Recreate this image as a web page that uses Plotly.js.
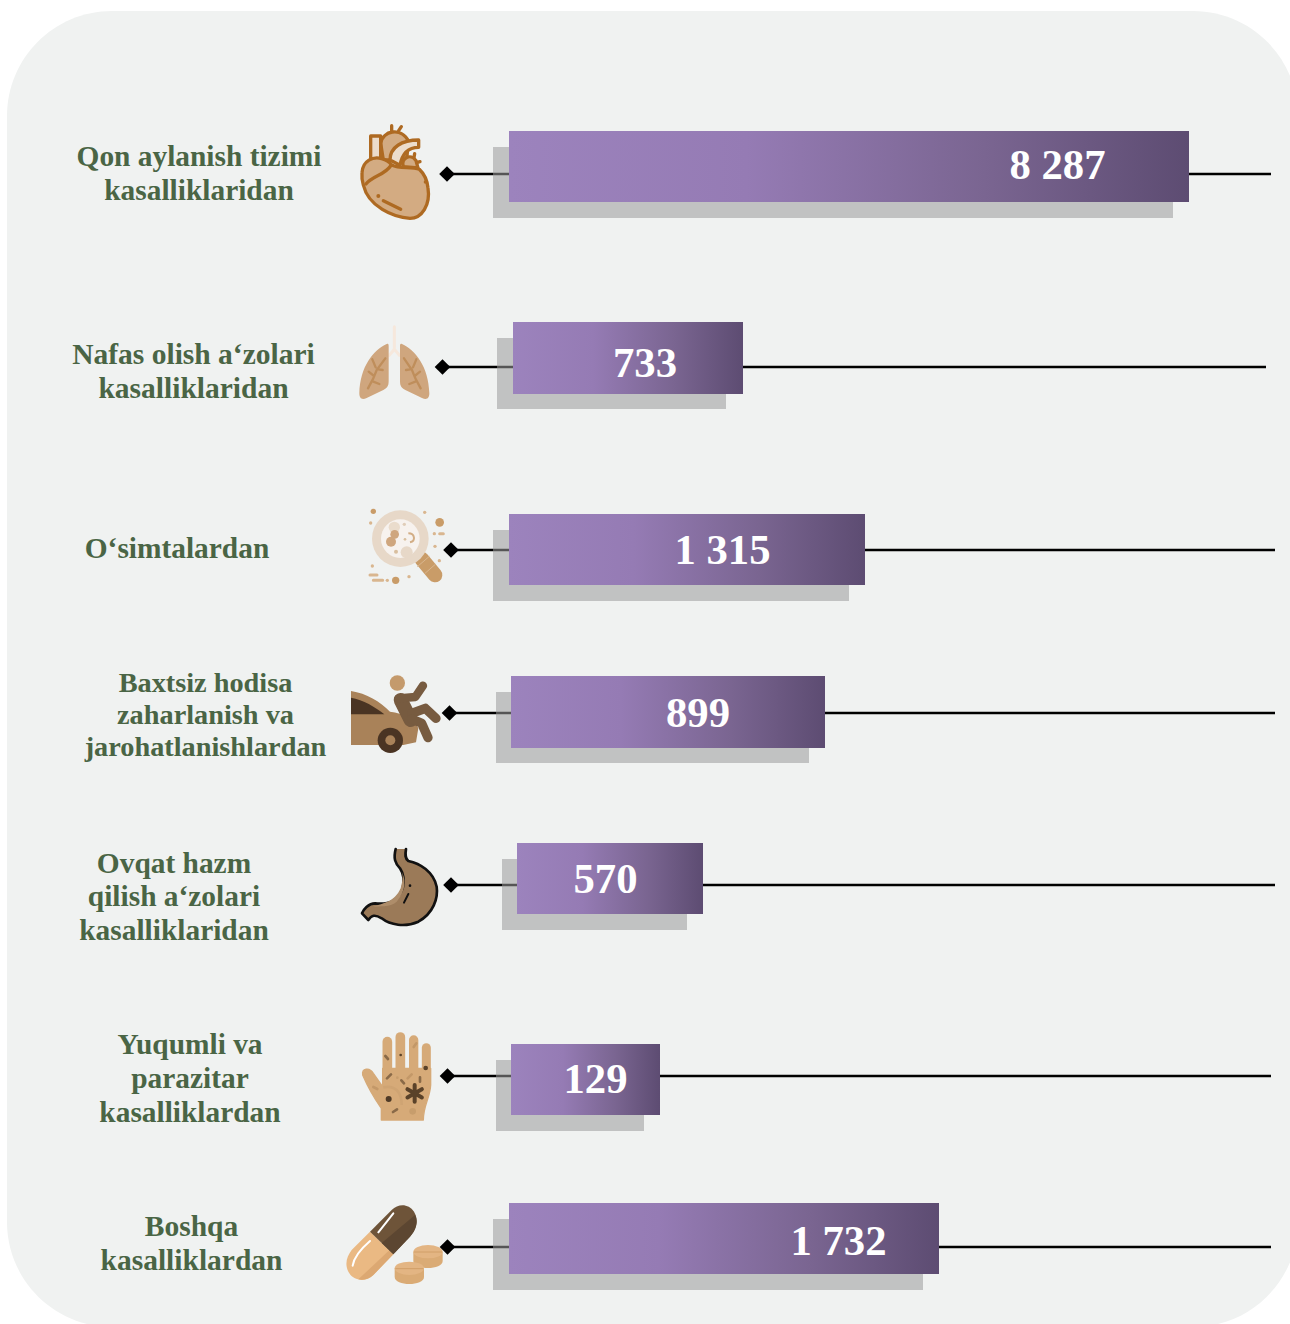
<!DOCTYPE html>
<html>
<head>
<meta charset="utf-8">
<script src="https://cdn.plot.ly/plotly-3.0.1.min.js"></script>
<style>html,body{margin:0;padding:0;background:#fff;overflow:hidden}#chart{width:1290px;height:1324px}</style>
</head>
<body>
<div id="chart"></div>
<script>
// ---- Data ----
const categories = [
  "Qon aylanish tizimi kasalliklaridan",
  "Nafas olish a‘zolari kasalliklaridan",
  "O‘simtalardan",
  "Baxtsiz hodisa zaharlanish va jarohatlanishlardan",
  "Ovqat hazm qilish a‘zolari kasalliklaridan",
  "Yuqumli va parazitar kasalliklardan",
  "Boshqa kasalliklardan"
];
const valueLabels = ["8 287","733","1 315","899","570","129","1 732"];
// The infographic's bars are not to a common scale, so their drawn lengths are read separately from the values.
const barLength = [680,230,356,314,186,149,430];

// ---- Layout of the infographic, in pixel units of the hidden axes ----
const barStart = [509,513,509,511,517,511,509];
const barCentre = [166.5,358,549.5,712,878.5,1079.5,1238.5];
const barHeight = [71,72,71,72,71,71,71];
const shadowStart = [493,497,493,496,502,496,493];
const shadowLength = [680,229,356,313,185,148,430];
const shadowCentre = [182.5,373.5,565.5,727.5,894.5,1095.5,1254.5];
const shadowHeight = [71,71,71,71,71,71,71];
const lineY = [174,367,550,713,885,1076,1247];
const lineStart = [447,442.5,451,449.5,451,447.5,447.5];
const lineEnd = [1271,1266,1275,1275,1275,1271,1271];
const valueX = [1057.5,645,722.5,698,605.5,595.5,838.5];
const valueY = [168,366,553,716,882,1082,1244];
const labelLines = [
  ["Qon aylanish tizimi","kasalliklaridan"],
  ["Nafas olish a‘zolari","kasalliklaridan"],
  ["O‘simtalardan"],
  ["Baxtsiz hodisa","zaharlanish va","jarohatlanishlardan"],
  ["Ovqat hazm","qilish a‘zolari","kasalliklaridan"],
  ["Yuqumli va","parazitar","kasalliklardan"],
  ["Boshqa","kasalliklardan"]
];
const labelX = [199,193.5,177,205.5,174,190,191.5];
const labelY = [
  [159,193],[357,391],[551],[685,717,749],[866,899,933],[1047,1081,1115],[1229,1263]
];
const labelSize = [29.4,29.5,29.4,28.3,29.4,29.4,29.5];
const labelXs = [], labelYs = [], labelTexts = [], labelSizes = [];
labelLines.forEach((lines,i)=>lines.forEach((t,j)=>{labelXs.push(labelX[i]);labelYs.push(labelY[i][j]);labelTexts.push(t);labelSizes.push(labelSize[i]);}));

// ---- Icons ----  (each is drawn in a 3× box placed at iconBox)
const iconBox = [[340,110,180,120],[340,310,180,110],[340,495,180,110],[340,665,180,100],[340,835,180,100],[340,1025,180,105],[340,1195,180,100]];
const spokes = [0,60,120,180,240,300].map(a=>{const r=a*Math.PI/180;return `<line x1="224" y1="205" x2="${224+25*Math.sin(r)}" y2="${205-25*Math.cos(r)}"/>`}).join('');
const iconBodies = [
// heart
`<g stroke="#ae6a22" stroke-width="10" stroke-linejoin="round" stroke-linecap="round" fill="#d3ab82">
<path d="M122 100C128 62 182 50 205 92L200 150L130 150Z"/>
<path d="M155 47V62M184 50L176 62" fill="none"/>
<rect x="92" y="78" width="30" height="70" fill="#ecdccb"/>
<path d="M150 150C150 112 185 90 236 90L236 112C205 112 186 132 180 166Z" fill="#ecdccb"/>
<path d="M190 170C182 145 212 128 228 152L234 174Z"/>
<path d="M224 131L222 142M240 155L232 157" fill="none"/>
<path d="M66 188C68 152 100 138 125 146C140 150 150 158 155 165C180 178 215 168 238 178C256 195 262 215 264 234C272 285 245 325 210 325C160 322 85 290 70 225C66 212 65 200 66 188Z"/>
<path d="M154 165C132 198 100 195 78 222" fill="none"/>
<path d="M130 272L182 298" fill="none"/></g>
<circle cx="115" cy="258" r="6" fill="#ae6a22"/><circle cx="256" cy="216" r="5" fill="#ae6a22"/>`,
// lungs
`<path d="M163 50V120M163 118L148 136M163 118L178 136" stroke="#f6e8dc" stroke-width="9" fill="none" stroke-linecap="round"/>
<path d="M140 102C100 120 60 170 58 250C58 268 68 270 80 264L130 240C145 232 146 225 146 210L146 110C146 102 145 100 140 102Z" fill="#cfa67e"/>
<path d="M186 102C226 120 266 170 268 250C268 268 258 270 246 264L196 240C181 232 180 225 180 210L180 110C180 102 181 100 186 102Z" fill="#cfa67e"/>
<g stroke="#bf8e5b" stroke-width="7" fill="none" stroke-linecap="round">
<path d="M136 145L110 180L100 205L84 235M97 148L107 172M86 185L102 198M128 180L115 178M100 215L118 222"/>
<path d="M192 145L216 180L226 205L242 235M229 148L219 172M240 185L224 198M198 180L211 178M226 215L208 222"/></g>`,
// magnifier
`<path d="M245 192L285 240" stroke="#c99c68" stroke-width="44" stroke-linecap="round"/>
<path d="M232 215L268 184M255 235L286 208" stroke="#d9b68f" stroke-width="3"/>
<circle cx="181" cy="131" r="85" fill="#e7d8c8"/><circle cx="181" cy="131" r="58" fill="#f7f2ee"/>
<circle cx="163" cy="97" r="17" fill="#eadccc"/><circle cx="164" cy="118" r="13" fill="#cfa67e"/><circle cx="153" cy="140" r="15" fill="#cfa67e"/>
<circle cx="200" cy="172" r="18" fill="#e7d8c8"/><circle cx="193" cy="88" r="5" fill="#e0cdb8"/><circle cx="168" cy="170" r="6" fill="#d9bf9f"/><circle cx="195" cy="133" r="4" fill="#d9bf9f"/>
<path d="M205 115C225 115 228 138 210 142" stroke="#d2ad85" stroke-width="6" fill="none"/>
<g fill="#c99c68"><circle cx="100" cy="49" r="8"/><circle cx="299" cy="82" r="13"/><circle cx="167" cy="256" r="11"/></g>
<g fill="#d9b68f"><circle cx="92" cy="84" r="5"/><circle cx="254" cy="52" r="5"/><circle cx="283" cy="116" r="5"/><circle cx="285" cy="154" r="5"/><circle cx="298" cy="197" r="5"/><circle cx="97" cy="213" r="5"/><circle cx="142" cy="256" r="5"/><circle cx="207" cy="245" r="5"/></g>
<g stroke="#d9b68f" stroke-width="9" stroke-linecap="round"><path d="M299 116H310M90 240H111M100 256H128"/></g>`,
// car crash
`<path d="M33 78C80 85 120 110 150 140C190 145 225 160 235 190L228 232L190 240L33 240Z" fill="#a98259"/>
<path d="M33 98C70 105 105 125 133 148L33 148Z" fill="#4a3423"/>
<circle cx="151" cy="226" r="38" fill="#4a3423"/><circle cx="151" cy="226" r="15" fill="#a98259"/>
<circle cx="172" cy="54" r="23" fill="#c49a6c"/>
<g stroke="#775b40" fill="none" stroke-linecap="round" stroke-linejoin="round"><path d="M182 105L212 165" stroke-width="42"/><path d="M175 100L226 96L249 62" stroke-width="25"/><path d="M215 145L256 130L288 160" stroke-width="28"/><path d="M215 162L245 175L264 218" stroke-width="28"/></g>`,
// stomach
`<path d="M167 42C160 70 165 85 180 100C190 115 195 130 188 160C175 195 150 210 105 205C85 205 70 225 66 235L85 255C95 240 105 238 125 250C150 270 195 278 235 260C280 235 295 190 290 155C280 110 240 85 205 78C195 70 195 60 198 42" fill="#9b7a58" stroke="#111" stroke-width="8" stroke-linecap="round" stroke-linejoin="round"/>
<path d="M182 105C198 130 200 165 170 200C150 218 115 212 100 215C130 205 165 200 182 160C190 130 190 118 182 105Z" fill="#ae8d6a"/>
<circle cx="210" cy="152" r="4" fill="#111"/><path d="M205 177L192 203" stroke="#111" stroke-width="6" stroke-linecap="round"/>`,
// hand
`<g stroke="#d6aa78" stroke-linecap="round" fill="none"><path d="M142 50V140" stroke-width="29"/><path d="M181 36V140" stroke-width="29"/><path d="M221 45V140" stroke-width="28"/><path d="M259 68V145" stroke-width="27"/></g>
<path d="M128 130L272 130L272 180C270 220 250 240 250 285L124 285L124 250C110 230 85 190 68 150C65 130 88 125 100 145L128 185Z" fill="#d6aa78" stroke="#d6aa78" stroke-width="4" stroke-linejoin="round"/>
<path d="M130 187C165 180 185 200 185 240" stroke="#cfa473" stroke-width="8" fill="none"/>
<g stroke="#5a4229" stroke-width="12" stroke-linecap="round">${spokes}</g><circle cx="224" cy="205" r="11" fill="#5a4229"/>
<circle cx="146" cy="222" r="9" fill="#4f3a26"/><circle cx="257" cy="129" r="7" fill="#5a4229"/><circle cx="182" cy="90" r="4" fill="#5a4229"/><circle cx="218" cy="259" r="10" fill="#c79d6c"/><circle cx="172" cy="158" r="4" fill="#c79d6c"/>
<g stroke="#8a6a48" stroke-width="8" stroke-linecap="round"><path d="M136 93L144 102M141 160L153 148M240 157V170M159 261L171 253M184 166L192 175"/></g>
<g stroke="#c39868" stroke-width="8" stroke-linecap="round"><path d="M221 66L229 55M203 160L215 148M100 186L112 192"/></g>`,
// pills
`<path d="M90 110L160 178L100 240C75 265 40 255 28 235C12 210 20 185 35 165Z" fill="#eab983"/>
<path d="M148 166L160 178L100 240C88 252 72 256 55 253Z" fill="#dca872"/>
<path d="M90 110L155 45C175 25 205 25 222 50C238 75 228 105 210 125L160 178Z" fill="#6e5439"/>
<path d="M225 60C236 80 228 105 210 125L160 178L125 144Z" fill="#5c4631"/>
<path d="M115 112L160 55M38 212C42 185 62 162 90 138" stroke="#fff" stroke-width="6" stroke-linecap="round" fill="none"/>
<g><path d="M220 170V198C220 226 308 226 308 198V170Z" fill="#daab75"/><ellipse cx="264" cy="170" rx="44" ry="20" fill="#e3b583"/><path d="M222 171H306" stroke="#d19f68" stroke-width="3"/></g>
<g><path d="M164 220V246C164 274 252 274 252 246V220Z" fill="#daab75"/><ellipse cx="208" cy="220" rx="44" ry="20" fill="#e3b583"/><path d="M166 221H250" stroke="#d19f68" stroke-width="3"/></g>`
];
const iconImages = iconBox.map((b,i)=>({
  source:'data:image/svg+xml;charset=utf-8,'+encodeURIComponent(`<svg xmlns="http://www.w3.org/2000/svg" width="${b[2]*3}" height="${b[3]*3}" viewBox="0 0 ${b[2]*3} ${b[3]*3}">${iconBodies[i]}</svg>`),
  xref:'x',yref:'y',x:b[0],y:b[1],sizex:b[2],sizey:b[3],xanchor:'left',yanchor:'top',sizing:'stretch',layer:'below'
}));

// ---- Panel ----
const px0=7,py0=11,px1=1298,py1=1327,pr=105,k=pr*0.448;
const panelPath=`M${px0+pr} ${py0}L${px1-pr} ${py0}C${px1-k} ${py0} ${px1} ${py0+k} ${px1} ${py0+pr}L${px1} ${py1-pr}C${px1} ${py1-k} ${px1-k} ${py1} ${px1-pr} ${py1}L${px0+pr} ${py1}C${px0+k} ${py1} ${px0} ${py1-k} ${px0} ${py1-pr}L${px0} ${py0+pr}C${px0} ${py0+k} ${px0+k} ${py0} ${px0+pr} ${py0}Z`;

const shapes=[{type:'path',xref:'x',yref:'y',path:panelPath,fillcolor:'#f0f2f1',line:{width:0},layer:'below'}];
lineY.forEach((y,i)=>shapes.push({type:'line',xref:'x',yref:'y',x0:lineStart[i],x1:lineEnd[i],y0:y,y1:y,line:{color:'#000',width:2.6},layer:'below'}));

const shadowTrace={type:'bar',orientation:'h',x:shadowLength,base:shadowStart,
  y:shadowCentre,width:shadowHeight,marker:{color:'rgba(155,155,155,0.55)',line:{width:0}},hoverinfo:'skip'};
const barTrace={type:'bar',orientation:'h',x:barLength,base:barStart,y:barCentre,width:barHeight,
  marker:{color:'#7d6697',line:{width:0}},name:'bars',customdata:categories,hoverinfo:'skip'};
const diamondTrace={type:'scatter',mode:'markers',x:lineStart,y:lineY,marker:{symbol:'diamond',size:12,color:'#000'},hoverinfo:'skip'};
const valueTrace={type:'scatter',mode:'text',x:valueX,y:valueY,text:valueLabels,textposition:'middle center',
  textfont:{family:'"Liberation Serif"',size:42.7,color:'#ffffff',weight:700},hoverinfo:'skip'};
const labelTrace={type:'scatter',mode:'text',x:labelXs,y:labelYs,text:labelTexts,textposition:'middle center',
  textfont:{family:'"Liberation Serif"',size:labelSizes,color:'#4a6545',weight:700},hoverinfo:'skip'};

Plotly.newPlot('chart',[shadowTrace,barTrace,diamondTrace,valueTrace,labelTrace],{
  width:1290,height:1324,margin:{l:0,r:0,t:0,b:0},showlegend:false,
  paper_bgcolor:'#ffffff',plot_bgcolor:'rgba(0,0,0,0)',barmode:'overlay',
  xaxis:{range:[0,1290],visible:false,fixedrange:true},
  yaxis:{range:[1324,0],visible:false,fixedrange:true},
  shapes:shapes,images:iconImages
},{staticPlot:true,displayModeBar:false}).then(gd=>{
  // Plotly bars have no gradient fill, so the purple fade is attached to the bars it drew.
  const svg=gd.querySelector('svg.main-svg');
  const ns='http://www.w3.org/2000/svg';
  const defs=svg.querySelector('defs');
  const g=document.createElementNS(ns,'linearGradient');
  g.setAttribute('id','barFade');
  [[0,'#9c83bd'],[0.35,'#957bb4'],[0.7,'#7a6591'],[1,'#5d4c72']].forEach(s=>{
    const st=document.createElementNS(ns,'stop');st.setAttribute('offset',s[0]);st.setAttribute('stop-color',s[1]);g.appendChild(st);
  });
  defs.appendChild(g);
  const traces=gd.querySelectorAll('.barlayer .trace.bars');
  traces[1].querySelectorAll('.point path').forEach(p=>{p.style.fill='url(#barFade)';});
});
</script>
</body>
</html>
